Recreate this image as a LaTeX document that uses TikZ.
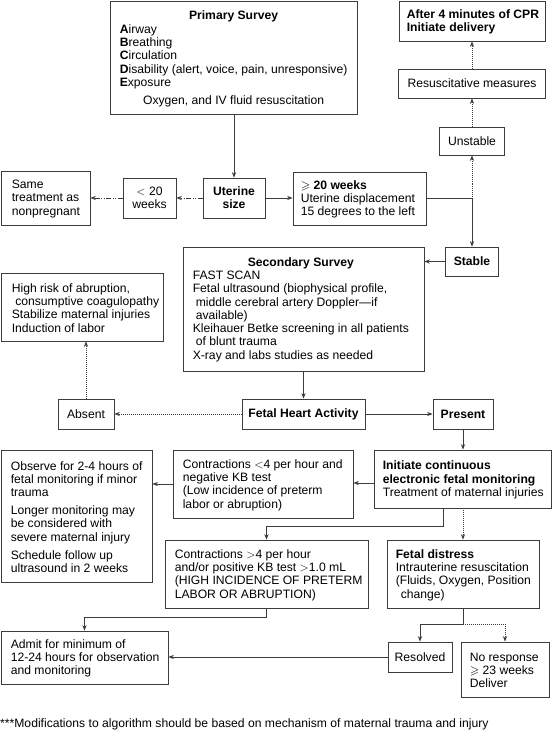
\documentclass[tikz,border=0pt]{standalone}
\usepackage{amssymb}
\usepackage{fontspec}
\setmainfont{Liberation Sans}
\usetikzlibrary{arrows.meta}
\definecolor{lc}{RGB}{60,60,60}
\newcommand\myfs{\fontsize{12.15}{13.3}\selectfont}
\tikzset{
  bx/.style={draw=lc, line width=0.8pt, inner sep=0pt, font=\myfs, align=center},
  tx/.style={inner sep=0pt, font=\myfs, align=left, anchor=west, yshift=-1pt},
  ln/.style={draw=lc, line width=0.8pt},
  arr/.style={ln, -{Stealth[length=5.5pt,width=4.2pt]}},
  dot/.style={dash pattern=on 1pt off 1pt},
  dd/.style={dash pattern=on 5pt off 1.5pt on 1pt off 1.5pt on 1pt off 1.5pt}
}
\begin{document}
\begin{tikzpicture}[x=1pt,y=-1pt]
\useasboundingbox (0,0) rectangle (552,730);
\fill[white] (0,0) rectangle (552,730);

% Primary survey
\node[bx, minimum width=247, minimum height=113] (prim) at (233.5,57.5) {};
\node[tx, yshift=-1pt] (primt) at ([xshift=10pt]prim.west) {%
\begin{tabular}{@{}l@{}}
\multicolumn{1}{@{}c@{}}{\textbf{Primary Survey}}\\
\textbf{A}irway\\
\textbf{B}reathing\\
\textbf{C}irculation\\
\textbf{D}isability (alert, voice, pain, unresponsive)\\
\textbf{E}xposure\\[4.7pt]
\multicolumn{1}{@{}c@{}}{Oxygen, and IV fluid resuscitation}
\end{tabular}};

% right column top
\node[bx, minimum width=146, minimum height=40] (cpr) at (472,21) {};
\node[tx] (cprt) at ([xshift=8pt]cpr.west) {\textbf{After 4 minutes of CPR}\\\textbf{Initiate delivery}};
\node[bx, minimum width=147, minimum height=29] (resus) at (472,83.5) {Resuscitative measures};
\node[bx, minimum width=65, minimum height=28] (unst) at (472,141) {Unstable};

% uterine size row
\node[bx, minimum width=62, minimum height=40] (uter) at (234,198) {\textbf{Uterine}\\\textbf{size}};
\node[bx, minimum width=53, minimum height=40] (lt20) at (149.5,198) {$<$ 20\\weeks};
\node[bx, minimum width=89, minimum height=54] (same) at (45.5,198) {};
\node[tx] (samet) at ([xshift=11pt]same.west) {Same\\treatment as\\nonpregnant};
\node[bx, minimum width=133, minimum height=53] (ge20) at (359.5,198.5) {};
\node[tx] (ge20t) at ([xshift=8pt]ge20.west) {$\geqslant$ \textbf{20 weeks}\\Uterine displacement\\15 degrees to the left};
\node[bx, minimum width=53, minimum height=29] (stab) at (472,261.5) {\textbf{Stable}};

% secondary survey
\node[bx, minimum width=241, minimum height=124] (sec) at (303.5,309) {};
\node[tx] (sect) at ([xshift=10pt]sec.west) {%
\begin{tabular}{@{}l@{}}
\multicolumn{1}{@{}c@{}}{\textbf{Secondary Survey}}\\
FAST SCAN\\
Fetal ultrasound (biophysical profile,\\
\hspace*{3pt}middle cerebral artery Doppler—if\\
\hspace*{3pt}available)\\
Kleihauer Betke screening in all patients\\
\hspace*{3pt}of blunt trauma\\
X-ray and labs studies as needed
\end{tabular}};

\node[bx, minimum width=162, minimum height=68] (high) at (82,307) {};
\node[tx] (hight) at ([xshift=11pt]high.west) {High risk of abruption,\\\hspace*{3.5pt}consumptive coagulopathy\\Stabilize maternal injuries\\Induction of labor};

% fetal heart activity row
\node[bx, minimum width=56, minimum height=30] (absent) at (86,414) {Absent};
\node[bx, minimum width=123, minimum height=30] (fha) at (303.5,414) {\textbf{Fetal Heart Activity}};
\node[bx, minimum width=60, minimum height=30] (pres) at (463,414) {\textbf{Present}};

% monitoring
\node[bx, minimum width=177, minimum height=58] (init) at (462.5,479) {};
\node[tx] (initt) at ([xshift=9pt]init.west) {\textbf{Initiate continuous}\\\textbf{electronic fetal monitoring}\\Treatment of maternal injuries};
\node[bx, minimum width=180, minimum height=68] (clt4) at (263,484) {};
\node[tx] (clt4t) at ([xshift=10pt]clt4.west) {Contractions $<$4 per hour and\\negative KB test\\(Low incidence of preterm\\labor or abruption)};
\node[bx, minimum width=151, minimum height=132] (obs) at (76.5,516) {};
\node[tx] (obst) at ([xshift=10pt]obs.west) {Observe for 2-4 hours of\\fetal monitoring if minor\\trauma\\[4.7pt]Longer monitoring may\\be considered with\\severe maternal injury\\[4.7pt]Schedule follow up\\ultrasound in 2 weeks};
\node[bx, minimum width=203, minimum height=68] (cgt4) at (266.5,574) {};
\node[tx] (cgt4t) at ([xshift=10pt]cgt4.west) {Contractions $>$4 per hour\\and/or positive KB test $>$1.0 mL\\(HIGH INCIDENCE OF PRETERM\\LABOR OR ABRUPTION)};
\node[bx, minimum width=152, minimum height=68] (fd) at (463,574) {};
\node[tx] (fdt) at ([xshift=9pt]fd.west) {\textbf{Fetal distress}\\Intrauterine resuscitation\\(Fluids, Oxygen, Position\\\hspace*{5pt}change)};

% bottom
\node[bx, minimum width=64, minimum height=30] (resol) at (420,657) {Resolved};
\node[bx, minimum width=88, minimum height=55] (noresp) at (505,669.5) {};
\node[tx] (noresptt) at ([xshift=9pt]noresp.west) {No response\\$\geqslant$ 23 weeks\\Deliver};
\node[bx, minimum width=167, minimum height=53] (admit) at (84.5,657.5) {};
\node[tx] (admitt) at ([xshift=10pt]admit.west) {Admit for minimum of\\12-24 hours for observation\\and monitoring};

\node[tx] (foot) at (0,723) {***Modifications to algorithm should be based on mechanism of maternal trauma and injury};

% connectors
\draw[arr] (uter.north |- prim.south) -- (uter.north);
\draw[arr,dd] (uter.west) -- (lt20.east);
\draw[arr,dd] (lt20.west) -- (same.east);
\draw[arr] (uter.east) -- (uter.east -| ge20.west);
\coordinate (j1) at (stab.north |- ge20.east);
\draw[ln] (ge20.east) -- (j1);
\draw[arr] (j1) -- (stab.north);
\draw[arr,dot] (j1) -- (unst.south);
\draw[arr,dot] (unst.north) -- (resus.south);
\draw[arr,dot] (resus.north) -- (cpr.south);
\draw[arr] (stab.west) -- (stab.west -| sec.east);
\draw[arr] (sec.south) -- (fha.north);
\draw[arr,dot] (fha.west) -- (absent.east);
\draw[arr,dot] (absent.north) -- (absent.north |- high.south);
\draw[arr] (fha.east) -- (pres.west);
\draw[arr] (pres.south) -- (pres.south |- init.north);
\draw[arr] ([yshift=-4pt]init.west) -- ([yshift=-4pt]init.west -| clt4.east);
\draw[arr] (clt4.west) -- (clt4.west -| obs.east);
\draw[arr] ([xshift=-19.5pt]init.south) -- ++(0,18) -| (cgt4.north);
\draw[arr,dot] (fd.north |- init.south) -- (fd.north);
\draw[ln] (fd.south) -- ++(0,16) coordinate (j2);
\draw[arr] (j2) -| (resol.north);
\draw[arr,dot] (j2) -| (noresp.north);
\draw[arr] (cgt4.south) -- ++(0,9) -| (admit.north);
\draw[arr] (resol.west) -- (resol.west -| admit.east);
\end{tikzpicture}
\end{document}
